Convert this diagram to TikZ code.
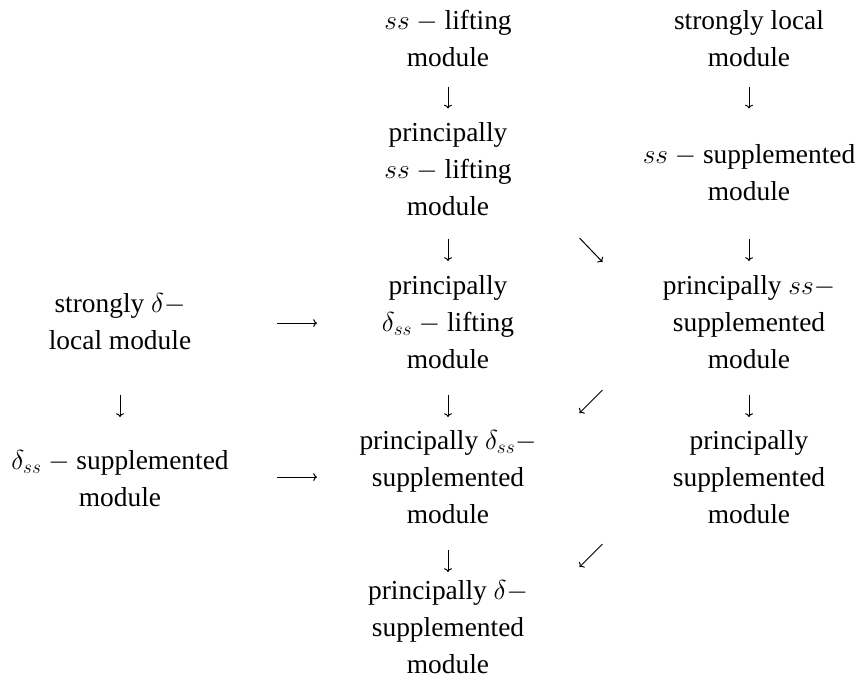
\RequirePackage{fix-cm}
\documentclass[tikz,border=0pt]{standalone}
\usepackage{fontspec}
\setmainfont{Liberation Serif}
\usetikzlibrary{arrows.meta,calc}
\newcommand\mcell[1]{\begin{tabular}[t]{@{}c@{}}#1\end{tabular}}
\tikzset{
  lbl/.style={inner sep=0pt, outer sep=0pt, anchor=base, font=\fontsize{27.4}{37}\selectfont},
  arr/.style={line width=1pt, -{Computer Modern Rightarrow[]}}
}
\begin{document}
\begin{tikzpicture}[x=1pt, y=-1pt]
\fill[white] (0,0) rectangle (857,681);
\useasboundingbox (0,0) rectangle (857,681);
% column 2
\node[lbl] (A1) at (448,29) {\mcell{$ss$ $-$ lifting\\module}};
\node[lbl] (A2) at (448,141) {\mcell{principally\\$ss$ $-$ lifting\\module}};
\node[lbl] (A3) at (448,294) {\mcell{principally\\$\delta_{ss}$ $-$ lifting\\module}};
\node[lbl] (A4) at (448,449) {\mcell{principally $\delta_{ss}-$\\supplemented\\module}};
\node[lbl] (A5) at (448,599) {\mcell{principally $\delta-$\\supplemented\\module}};
% column 3
\node[lbl] (B1) at (749,29) {\mcell{strongly local\\module}};
\node[lbl] (B2) at (749,163) {\mcell{$ss$ $-$ supplemented\\module}};
\node[lbl] (B3) at (749,294) {\mcell{principally $ss-$\\supplemented\\module}};
\node[lbl] (B4) at (749,449) {\mcell{principally\\supplemented\\module}};
% column 1
\node[lbl] (C1) at (120,312) {\mcell{strongly $\delta-$\\local module}};
\node[lbl] (C2) at (120,469) {\mcell{$\delta_{ss}$ $-$ supplemented\\module}};
% vertical arrows
\draw[arr, shorten <=9.4pt, shorten >=6.6pt] (A1) -- (A2);
\draw[arr, shorten <=12.9pt, shorten >=7.1pt] (A2) -- (A3);
\draw[arr, shorten <=15.9pt, shorten >=6.1pt] (A3) -- (A4);
\draw[arr, shorten <=15.9pt, shorten >=1.1pt] (A4) -- (A5);
\draw[arr, shorten <=9.4pt, shorten >=28.6pt] (B1) -- (B2);
\draw[arr, shorten <=27.9pt, shorten >=7.1pt] (B2) -- (B3);
\draw[arr, shorten <=15.9pt, shorten >=6.1pt] (B3) -- (B4);
\draw[arr, shorten <=34.9pt, shorten >=26.1pt] (C1) -- (C2);
% horizontal arrows
\draw[arr] ([xshift=157pt]C1.center) -- ([xshift=-131pt]C1.center -| A3.center);
\draw[arr] ([xshift=157pt,yshift=3pt]C2.center) -- ([xshift=-131pt,yshift=3pt]C2.center -| A4.center);
% diagonal arrows
\draw[arr] ($(A2.south)!0.5!(B3.north)$) +(-19,-9.1) -- +(4,14.9);
\draw[arr] ($(B3.south)!0.5!(A4.north)$) +(4,-11.1) -- +(-19,11.9);
\draw[arr] ($(B4.south)!0.5!(A5.north)$) +(4,-9.6) -- +(-19,13.4);
\end{tikzpicture}
\end{document}
